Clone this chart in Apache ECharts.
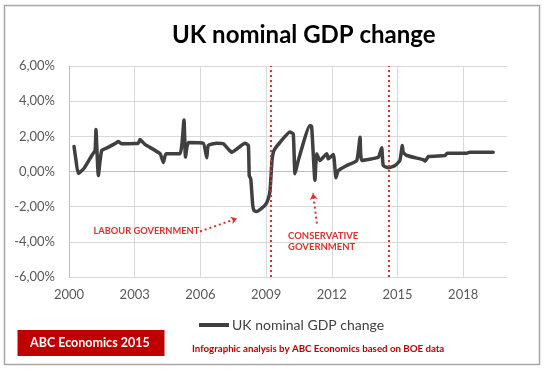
<!DOCTYPE html>
<html>
<head>
<meta charset="utf-8">
<script src="https://cdn.jsdelivr.net/npm/echarts@6/dist/echarts.min.js"></script>
<style>html,body{margin:0;padding:0;background:#fff}#c{width:547px;height:370px}</style>
</head>
<body>
<div id="c"></div>
<script>
// ---- data ----
var years = [2000.23, 2000.32, 2000.42, 2000.68, 2001.04, 2001.19, 2001.23, 2001.34, 2001.49, 2001.78,
  2002.15, 2002.25, 2002.41, 2003.01, 2003.16, 2003.24, 2003.47, 2004.16, 2004.31, 2004.43,
  2005.07, 2005.25, 2005.32, 2005.45, 2006.13, 2006.29, 2006.36, 2006.74, 2007.05, 2007.43,
  2008.04, 2008.19, 2008.23, 2008.30, 2008.39, 2008.45, 2008.57, 2008.95, 2009.10, 2009.18,
  2009.27, 2009.36, 2009.63, 2010.09, 2010.24, 2010.32, 2010.47, 2011.00, 2011.08, 2011.23,
  2011.31, 2011.46, 2011.77, 2011.84, 2012.07, 2012.19, 2012.30, 2012.68, 2013.14, 2013.29,
  2013.37, 2014.12, 2014.20, 2014.28, 2014.35, 2014.58, 2014.89, 2015.11, 2015.22, 2015.26,
  2015.42, 2016.18, 2016.26, 2016.41, 2017.17, 2017.27, 2018.16, 2018.31, 2019.37];
var gdpChange = [1.42, 0.63, -0.11, 0.17, 0.91, 1.19, 2.39, -0.23, 1.19, 1.37,
  1.62, 1.71, 1.58, 1.59, 1.59, 1.82, 1.54, 1.01, 0.51, 1.01,
  1.01, 2.93, 0.82, 1.65, 1.61, 0.78, 1.48, 1.61, 1.58, 1.10,
  1.61, 1.48, -0.23, -0.42, -1.93, -2.22, -2.28, -1.93, -1.55, -1.08,
  0.63, 1.19, 1.65, 2.24, 2.14, -0.13, 0.63, 2.62, 2.56, -0.51,
  1.01, 0.63, 1.01, 0.72, 0.97, -0.36, 0.06, 0.34, 0.63, 1.95,
  0.63, 0.80, 1.04, 1.35, 0.34, 0.21, 0.34, 0.63, 1.48, 1.10,
  0.91, 0.67, 0.59, 0.85, 0.91, 1.04, 1.04, 1.10, 1.10];
var seriesName = 'UK nominal GDP change';
var xTickStart = 2000, xTickEnd = 2020, xTickStep = 3;
var yTickMin = -6, yTickMax = 6, yTickStep = 2;
var governmentChanges = [2009.22, 2014.62];

var chart = echarts.init(document.getElementById('c'), null, {renderer: 'canvas'});
var red = '#E0302E';
var font = 'Lato, "Open Sans", sans-serif';
var dotted = {color: red, type: [2, 3], width: 2};
var option = {
  backgroundColor: '#ffffff',
  animation: false,
  textStyle: {fontFamily: font},
  title: {
    text: 'UK nominal GDP change',
    left: 167, top: 18,
    textStyle: {fontFamily: font, fontSize: 24, fontWeight: 'bold', color: '#000000'}
  },
  legend: {
    left: 194, top: 313,
    icon: 'rect', itemWidth: 30, itemHeight: 4, itemGap: 10,
    textStyle: {fontFamily: font, fontSize: 14, color: '#404040', padding: [0,0,0,-2]},
    data: [seriesName]
  },
  grid: {left: 69, top: 66, right: 40, bottom: 93, containLabel: false},
  xAxis: {
    type: 'value', min: xTickStart, max: xTickEnd, interval: xTickStep,
    axisLine: {show: true, lineStyle: {color: '#BFBFBF', width: 1}},
    axisTick: {show: false},
    axisLabel: {color: '#595959', fontSize: 13, margin: 11, showMaxLabel: false, fontFamily: font,
      formatter: function (v) { return String(v); }},
    splitLine: {show: true, showMaxLine: false, lineStyle: {color: '#D9D9D9', width: 1}}
  },
  yAxis: {
    type: 'value', min: yTickMin, max: yTickMax, interval: yTickStep,
    axisLine: {show: true, lineStyle: {color: '#BFBFBF', width: 1}},
    axisTick: {show: false},
    axisLabel: {color: '#595959', fontSize: 13, margin: 14, fontFamily: font,
      formatter: function (v) { return v.toFixed(2).replace('.', ',') + '%'; }},
    splitLine: {show: true, lineStyle: {color: '#D9D9D9', width: 1}}
  },
  series: [{
    name: seriesName,
    type: 'line',
    showSymbol: false,
    smooth: 0.15,
    color: '#404040',
    lineStyle: {width: 3.5, color: '#404040', join: 'round', cap: 'round'},
    data: years.map(function (y, i) { return [y, gdpChange[i]]; }),
    markLine: {
      silent: true,
      animation: false,
      symbol: ['none', 'none'],
      label: {show: false},
      data: governmentChanges.map(function (g) {
        return {xAxis: g, lineStyle: dotted};
      }).concat([
        [{coord: [2005.98, -3.41], lineStyle: dotted},
         {coord: [2007.67, -2.67], symbol: 'arrow', symbolSize: 6}],
        [{coord: [2011.32, -2.96], lineStyle: dotted},
         {coord: [2011.14, -1.25], symbol: 'arrow', symbolSize: 6}]
      ])
    },
    markPoint: {
      silent: true,
      animation: false,
      data: [
        {coord: [2005.95, -3.41], symbol: 'circle', symbolSize: 0,
         label: {show: true, position: 'left', distance: 0, formatter: 'LABOUR GOVERNMENT',
           color: red, fontWeight: 'bold', fontSize: 9.3, fontFamily: font}},
        {coord: [2010.0, -3.98], symbol: 'circle', symbolSize: 0,
         label: {show: true, position: 'right', distance: 0, formatter: 'CONSERVATIVE\nGOVERNMENT',
           color: red, fontWeight: 'bold', fontSize: 9.5, lineHeight: 11, align: 'left', fontFamily: font}}
      ]
    }
  }],
  graphic: [
    {type: 'rect', shape: {x: 4.5, y: 5.5, width: 535, height: 359}, style: {fill: 'none', stroke: '#A6A6A6', lineWidth: 1.5}, silent: true},
    {type: 'rect', shape: {x: 17.5, y: 330, width: 147, height: 26}, style: {fill: '#C00000'}, silent: true},
    {type: 'text', x: 30, y: 343, style: {text: 'ABC Economics 2015', fill: '#ffffff', font: 'bold 12.5px ' + font, textVerticalAlign: 'middle'}, silent: true},
    {type: 'text', x: 192, y: 349, style: {text: 'Infographic analysis by ABC Economics based on BOE data', fill: '#C00000', font: 'bold 9.7px ' + font, textVerticalAlign: 'middle'}, silent: true}
  ]
};
chart.setOption(option);
</script>
</body>
</html>
